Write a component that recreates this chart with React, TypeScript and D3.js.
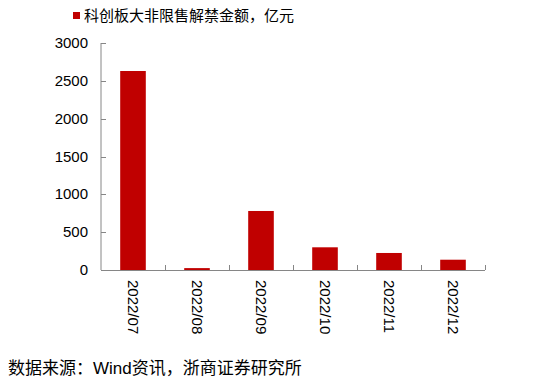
import * as d3 from "d3";
import { useEffect, useRef } from "react";

const months = ["2022/07", "2022/08", "2022/09", "2022/10", "2022/11", "2022/12"];
const amounts = [2630, 25, 780, 300, 225, 136];
const yTicks = [0, 500, 1000, 1500, 2000, 2500, 3000];
const legendLabel = "科创板大非限售解禁金额，亿元";
const sourceNote = "数据来源：Wind资讯，浙商证券研究所";

const FONT = "Arial, 'Liberation Sans', 'Noto Sans CJK SC', sans-serif";

export default function App() {
    const ref = useRef<SVGSVGElement>(null);

    useEffect(() => {
        const width = 554, height = 386;
        const left = 101, right = 485, top = 43, bottom = 270;
        const svg = d3.select(ref.current);
        svg.selectAll("*").remove();
        svg.attr("width", width).attr("height", height);

        const x = d3.scaleBand().domain(months).range([left, right]).paddingInner(0.6).paddingOuter(0.3);
        const xb = d3.scaleBand().domain(months).range([left, right]);
        const y = d3.scaleLinear().domain([0, 3000]).range([bottom, top]);

        // bars
        svg.append("g")
            .selectAll("rect")
            .data(amounts)
            .enter()
            .append("rect")
            .attr("x", (d, i) => x(months[i]))
            .attr("y", d => y(d))
            .attr("width", x.bandwidth())
            .attr("height", d => bottom - y(d))
            .attr("fill", "#C00000");

        const axisColor = "#868686";

        // y axis
        svg.append("line")
            .attr("x1", left).attr("x2", left)
            .attr("y1", top).attr("y2", bottom)
            .attr("stroke", axisColor).attr("stroke-width", 1);
        svg.append("g").selectAll("line")
            .data(yTicks).enter().append("line")
            .attr("x1", left).attr("x2", left + 5)
            .attr("y1", d => Math.round(y(d)) + 0.5).attr("y2", d => Math.round(y(d)) + 0.5)
            .attr("stroke", axisColor);
        svg.append("g").selectAll("text")
            .data(yTicks).enter().append("text")
            .attr("x", 88)
            .attr("y", d => y(d) + 5)
            .attr("text-anchor", "end")
            .attr("font-size", "15px")
            .attr("font-family", FONT)
            .attr("fill", "#000")
            .text(d => d);

        // x axis
        svg.append("line")
            .attr("x1", left).attr("x2", right)
            .attr("y1", bottom + 0.5).attr("y2", bottom + 0.5)
            .attr("stroke", axisColor);
        svg.append("g").selectAll("line")
            .data(months).enter().append("line")
            .attr("x1", d => Math.round((xb(d) as number) + xb.bandwidth()) + 0.5)
            .attr("x2", d => Math.round((xb(d) as number) + xb.bandwidth()) + 0.5)
            .attr("y1", bottom).attr("y2", bottom - 5)
            .attr("stroke", axisColor);
        svg.append("g").selectAll("text")
            .data(months).enter().append("text")
            .attr("transform", d => `translate(${(x(d) as number) + x.bandwidth() / 2 - 5},280) rotate(90)`)
            .attr("text-anchor", "start")
            .attr("font-size", "15px")
            .attr("font-family", FONT)
            .attr("fill", "#000")
            .text(d => d);

        // legend
        svg.append("rect")
            .attr("x", 73).attr("y", 12).attr("width", 7).attr("height", 7)
            .attr("fill", "#C00000");
        svg.append("text")
            .attr("x", 84).attr("y", 21)
            .attr("font-size", "15px")
            .attr("font-family", FONT)
            .attr("fill", "#000")
            .text(legendLabel);

        // source
        svg.append("text")
            .attr("x", 8).attr("y", 374)
            .attr("font-size", "17px")
            .attr("font-family", FONT)
            .attr("fill", "#000")
            .text(sourceNote);
    }, []);

    return <svg ref={ref} style={{ position: "absolute", left: 0, top: 0, background: "#fff" }}></svg>;
}
